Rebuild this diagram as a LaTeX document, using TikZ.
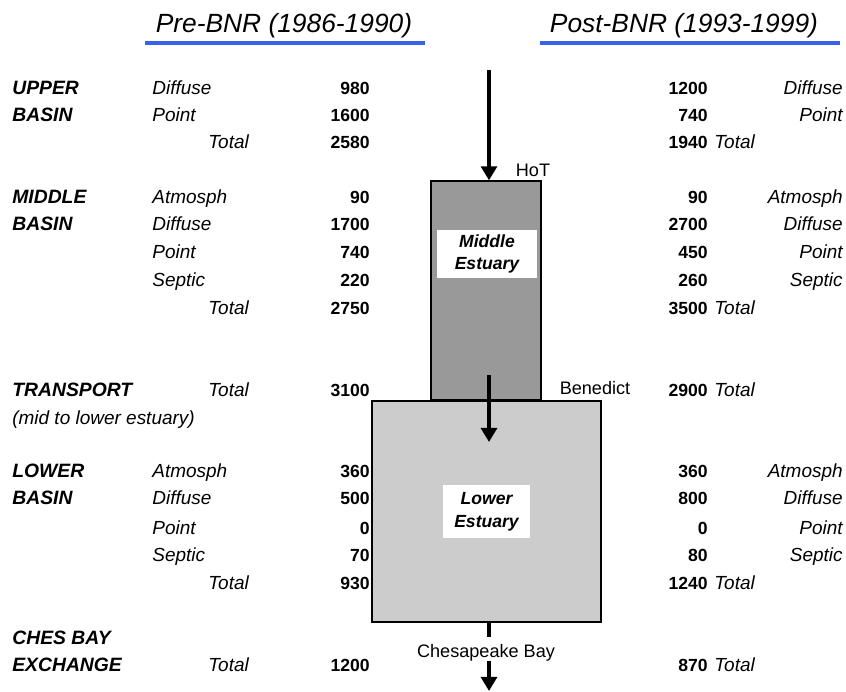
\documentclass[tikz,border=0pt]{standalone}
\usepackage{fontspec}
\setmainfont{Liberation Sans}
\setsansfont{Liberation Sans}
\usetikzlibrary{arrows.meta, positioning, calc}
\definecolor{UnderBlue}{RGB}{58,98,232}
\definecolor{MidGray}{RGB}{153,153,153}
\definecolor{LowGray}{RGB}{204,204,204}

\begin{document}
\begin{tikzpicture}[x=0.02cm, y=-0.02cm,
    font=\sffamily\fontsize{10}{12}\selectfont,
    base/.style={inner sep=0pt, text height=9pt, text depth=2pt},
    region/.style={base, anchor=west, font=\sffamily\bfseries\itshape\fontsize{11}{13}\selectfont},
    item/.style={base, anchor=west, font=\sffamily\itshape\fontsize{10.8}{13}\selectfont},
    ritem/.style={item, anchor=east},
    num/.style={base, anchor=east, font=\sffamily\bfseries\fontsize{10}{12}\selectfont},
    head/.style={font=\sffamily\itshape\fontsize{15}{18}\selectfont},
    estuary/.style={draw=black, line width=0.8pt},
    tag/.style={fill=white, align=center, inner sep=0pt,
        font=\sffamily\bfseries\itshape\fontsize{10}{13}\selectfont},
    flow/.style={-{Triangle[length=8pt, width=9pt]}, line width=2.2pt},
    site/.style={base, font=\sffamily\fontsize{10.3}{12}\selectfont},
]
\useasboundingbox (0,0) rectangle (846,691);

% ============ headers ============
\node[head] (pre) at (284,26) {Pre-BNR (1986-1990)};
\node[head] (post) at (684,26) {Post-BNR (1993-1999)};
\draw[UnderBlue, line width=2.5pt] (145,43) -- (425,43);
\draw[UnderBlue, line width=2.5pt] (540,43) -- (840,43);

% ============ estuary boxes ============
\node[estuary, fill=MidGray, minimum width=2.2cm, minimum height=4.38cm] (mid) at (486,290.5) {};
\node[estuary, fill=LowGray, minimum width=4.58cm, minimum height=4.42cm] (low) at (486.5,511.5) {};
\node[tag, minimum width=2cm, minimum height=0.96cm] (midtag) at (487,254) {Middle\\Estuary};
\node[tag, minimum width=1.74cm, minimum height=1.06cm] (lowtag) at (486.5,511.5) {Lower\\Estuary};

% ============ flows ============
\coordinate (top) at (489,70);
\draw[flow] (top) -- (top |- mid.north);
\coordinate (tin) at (489,375);
\coordinate (tout) at (489,442);
\draw[flow] (tin) -- (tout);
\node[site] (cb) at (486,651) {Chesapeake Bay};
\draw[line width=2.2pt] (low.south -| top) -- ([yshift=2pt]cb.north -| top);
\coordinate (out) at (489,691);
\draw[flow] (cb.south -| top) -- (out);

\node[site] (hot) at (533,170) {HoT};
\node[site] (ben) at (595,388) {Benedict};

% ============ region labels ============
\node[region] (up1) at (12,88) {UPPER};
\node[region] (up2) at (12,115) {BASIN};
\node[region] (mi1) at (12,197) {MIDDLE};
\node[region] (mi2) at (12,224) {BASIN};
\node[region] (tr1) at (12,390) {TRANSPORT};
\node[item] (tr2) at (12,418) {(mid to lower estuary)};
\node[region] (lo1) at (12,471) {LOWER};
\node[region] (lo2) at (12,498) {BASIN};
\node[region] (cb1) at (12,638) {CHES BAY};
\node[region] (cb2) at (12,665) {EXCHANGE};

% ============ loads ============
\foreach \y/\name/\a/\b [count=\i] in {88/Diffuse/980/1200, 115/Point/1600/740,
    197/Atmosph/90/90, 224/Diffuse/1700/2700, 252/Point/740/450, 280/Septic/220/260,
    471/Atmosph/360/360, 498/Diffuse/500/800, 528/Point/0/0, 555/Septic/70/80}{
  \node[item] (s\i) at (152,\y) {\name};
  \node[num] (a\i) at (370,\y) {\a};
  \node[num] (b\i) at (708,\y) {\b};
  \node[ritem] (r\i) at (843,\y) {\name};
}
% totals
\foreach \y/\a/\b [count=\i] in {142/2580/1940, 308/2750/3500, 390/3100/2900,
    583/930/1240, 665/1200/870}{
  \node[item] (tl\i) at (208,\y) {Total};
  \node[num] (ta\i) at (370,\y) {\a};
  \node[num] (tb\i) at (708,\y) {\b};
  \node[item] (tr\i) at (714,\y) {Total};
}

\end{tikzpicture}
\end{document}
